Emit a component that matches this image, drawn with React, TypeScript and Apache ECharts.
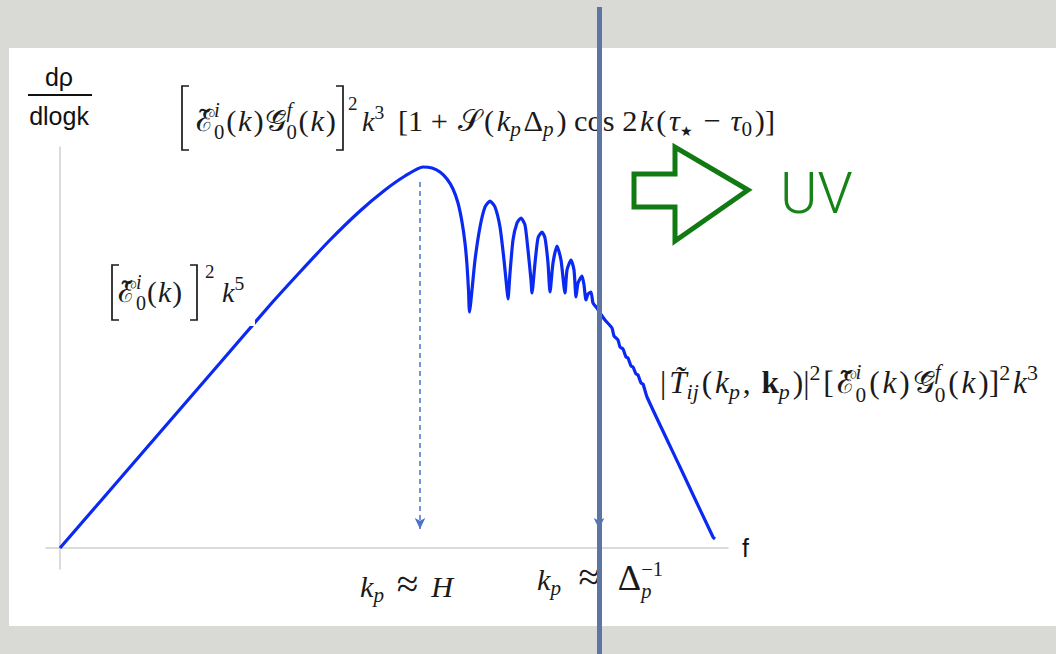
import React, { useEffect, useRef } from "react";
import * as echarts from "echarts";

// Energy spectrum trace: x = log k (arbitrary units), y = dρ/dlogk (arbitrary units)
const logK = [0, 8, 16, 21, 24, 27, 30, 32.5, 34.5, 36.3, 37.2, 38, 38.7, 39.3, 39.8, 40.2, 40.5, 40.7, 40.85, 40.95, 41.2, 41.5, 42, 42.5, 43, 43.5, 44, 44.4, 44.7, 44.8, 45, 45.3, 45.7, 46.1, 46.5, 46.8, 47.1, 47.2, 47.5, 47.8, 48.2, 48.5, 48.8, 49, 49.3, 49.7, 50.1, 50.5, 50.7, 51.1, 51.4, 51.6, 51.8, 52.2, 52.4, 52.6, 52.8, 53.1, 53.3, 53.7, 54, 54.5, 55.2, 55.4, 55.8, 56, 56.3, 56.6, 56.8, 57.1, 57.3, 57.6, 57.8, 58.1, 58.3, 58.7, 62, 65.3, 65.5];
const dRho = [0, 9.25, 18.5, 24.3, 27.6, 30.8, 33.7, 35.8, 37.2, 38.1, 38, 37.6, 36.9, 35.9, 34.5, 32.6, 30.5, 28.3, 25.8, 23.6, 25.8, 28.8, 32.1, 34.1, 34.7, 34.1, 32.1, 28.8, 25.8, 24.9, 27.5, 30.8, 32.5, 33, 32.3, 29.8, 26.8, 25.5, 28.5, 31, 31.6, 31, 28.5, 25.6, 28.5, 30.2, 28.8, 25.5, 27.8, 28.8, 27.8, 25.1, 26.5, 27.2, 26.3, 24.8, 25.4, 25.6, 24.5, 24, 23.5, 22.8, 22, 21.2, 20.8, 20.1, 19.9, 19.1, 19, 18.2, 18.1, 17.4, 17.3, 16.5, 16.4, 15.1, 8.1, 1.1, 0.9];

// Axis extents
const xRange = [-1.4, 66.8];
const yRange = [-2.1, 40.1];

// Marker arrows: k_p ≈ H (spectrum peak) and k_p ≈ Δ_p^{-1}
const markerK = [36.0, 53.9];
const markerTop = [36.6, 23.5];
const markerTip = 1.9;

// ---------- formula layout ----------
// s: script size (attached to the previous symbol), m: magnified base symbol
type Tok = { t: string; k?: "i" | "r" | "b"; s?: number; m?: number; dy?: number; stack?: boolean };
const SERIF = '"Liberation Serif", "DejaVu Serif", serif';
const SANS = '"Liberation Sans", Arial, sans-serif';
const INK = "#1a1a1a";
const CENTRAL = 0.34;

const I = (t: string): Tok => ({ t, k: "i" });
const R = (t: string, m?: number): Tok => ({ t, k: "r", m });
const B = (t: string): Tok => ({ t, k: "b" });
const sup = (t: string, k: "i" | "r" = "r"): Tok => ({ t, k, s: 0.7, dy: -0.42 });
const sub = (t: string, k: "i" | "r" = "i", s = 0.7): Tok => ({ t, k, s, dy: 0.18 });
const supsub = (a: string, b: string, ka: "i" | "r" = "i", kb: "i" | "r" = "r"): Tok[] => [
  { t: a, k: ka, s: 0.68, dy: -0.45, stack: true },
  { t: b, k: kb, s: 0.68, dy: 0.28 },
];
const scriptE: Tok = { t: "\u2130\u0303", k: "r" };
const scriptG: Tok = { t: "\uD835\uDCA2\u0303", k: "r" };
const scriptS: Tok = { t: "\uD835\uDCAE", k: "r" };

let measureCtx: CanvasRenderingContext2D | null = null;
function textWidth(tok: Tok, size: number) {
  if (!measureCtx) measureCtx = document.createElement("canvas").getContext("2d");
  const st = tok.k === "i" ? "italic" : "normal";
  const wt = tok.k === "b" ? "bold" : "normal";
  measureCtx!.font = `${st} ${wt} ${size}px ${SERIF}`;
  return measureCtx!.measureText(tok.t).width;
}

const sizeOf = (tok: Tok, S: number) => S * (tok.s || tok.m || 1);

function pack(toks: Tok[], S: number) {
  const pos: number[] = [];
  const slots: number[] = [];
  let cx = 0;
  let pend = 0;
  let nb = 0;
  toks.forEach((tok, i) => {
    if (i > 0 && !tok.s) nb += 1;
    const w = textWidth(tok, sizeOf(tok, S));
    pos.push(cx);
    slots.push(nb);
    if (tok.stack) pend = Math.max(pend, w);
    else {
      cx += Math.max(pend, w);
      pend = 0;
    }
  });
  return { pos, slots, width: cx, nb };
}

// Lays out a formula from x0 on the given baseline; when x1 is set, the size is
// nudged and the leftover space goes between base symbols so it ends at x1.
function formula(toks: Tok[], x0: number, x1: number | null, base: number, S0: number) {
  let S = S0;
  let p = pack(toks, S);
  let gap = 0;
  if (x1 != null) {
    const f = Math.min(1.12, Math.max(0.9, Math.pow((x1 - x0) / p.width, 0.5)));
    S = S0 * f;
    p = pack(toks, S);
    gap = p.nb > 0 ? (x1 - x0 - p.width) / p.nb : 0;
  }
  return toks.map((tok, i) => {
    const size = sizeOf(tok, S);
    return {
      type: "text",
      z: 100,
      x: x0 + p.pos[i] + gap * p.slots[i],
      y: base + (tok.dy || 0) * S - CENTRAL * size,
      style: {
        text: tok.t,
        fontSize: size,
        fontFamily: SERIF,
        fontStyle: tok.k === "i" ? "italic" : "normal",
        fontWeight: tok.k === "b" ? "bold" : "normal",
        fill: INK,
        align: "left",
        verticalAlign: "middle",
      },
    };
  });
}

function bracket(x: number, top: number, bot: number, side: "l" | "r") {
  const d = side === "l" ? 7 : -7;
  return {
    type: "polyline",
    z: 100,
    shape: { points: [[x + d, top], [x, top], [x, bot], [x + d, bot]] },
    style: { stroke: INK, lineWidth: 1.7, fill: "none" },
  };
}

function sansText(text: string, x: number, base: number, size: number, align = "left") {
  return {
    type: "text",
    z: 100,
    x,
    y: base - 0.35 * size,
    style: { text, fontSize: size, fontFamily: SANS, fill: "#111", align, verticalAlign: "middle" },
  };
}

function buildGraphics() {
  const g: any[] = [];
  // gap in the rising line behind the low-k label
  g.push({ type: "rect", z: 50, shape: { x: 106, y: 258, width: 149, height: 68 }, style: { fill: "#ffffff" } });

  // y-axis title dρ / dlogk
  g.push(sansText("d\u03C1", 59, 86, 25, "center"));
  g.push({ type: "line", z: 100, shape: { x1: 28, y1: 95, x2: 92, y2: 95 }, style: { stroke: "#111", lineWidth: 2 } });
  g.push(sansText("dlogk", 59, 125, 25, "center"));
  // x-axis title
  g.push(sansText("f", 742, 557, 25));

  // top formula
  g.push(bracket(182, 86, 150, "l"));
  g.push(...formula([scriptE, ...supsub("i", "0"), R("("), I("k"), R(")"), scriptG, ...supsub("f", "0"), R("("), I("k"), R(")")], 196, 336, 131, 28));
  g.push(bracket(343, 86, 150, "r"));
  g.push(...formula([R("2")], 348, null, 110, 19));
  g.push(...formula([I("k"), sup("3")], 362, null, 131, 28));
  g.push(...formula([R("[1 + "), scriptS, R("("), I("k"), sub("p"), R("\u0394"), sub("p"), R(") cos 2"), I("k"), R("("), I("\u03C4"), sub("\u2605", "r", 0.45), R(" \u2212 "), I("\u03C4"), sub("0", "r"), R(")]")], 398, 775, 131, 28));

  // low-k formula
  g.push(bracket(112, 265, 320, "l"));
  g.push(...formula([scriptE, ...supsub("i", "0"), R("("), I("k"), R(")")], 118, 182, 302, 28));
  g.push(bracket(197, 265, 320, "r"));
  g.push(...formula([R("2")], 205, null, 278, 19));
  g.push(...formula([I("k"), sup("5")], 222, null, 302, 28));

  // high-k formula
  g.push(...formula([R("|"), I("T\u0303"), sub("ij"), R("("), I("k"), sub("p"), R(", "), B("k"), sub("p"), R(")|"), sup("2"), R("["), scriptE, ...supsub("i", "0"), R("("), I("k"), R(")"), scriptG, ...supsub("f", "0"), R("("), I("k"), R(")]"), sup("2"), I("k"), sup("3")], 660, 1038, 393, 28));

  // marker labels
  g.push(...formula([I("k"), sub("p"), R("\u2248", 1.3), I("H")], 360, 453, 597, 27));
  g.push(...formula([I("k"), sub("p"), R("\u2248", 1.3), R("\u0394", 1.2), ...supsub("\u22121", "p", "r", "i")], 537, 663, 590, 27));

  // UV arrow and label
  g.push({
    type: "polygon",
    z: 100,
    shape: { points: [[634, 174], [675, 174], [675, 147], [748, 190], [675, 241], [675, 207], [634, 207]] },
    style: { fill: "none", stroke: "#127a12", lineWidth: 5, lineJoin: "miter" },
  });
  g.push({
    type: "text",
    z: 100,
    x: 780,
    y: 213 - 0.35 * 57,
    style: { text: "UV", fontSize: 57, fontFamily: "Roboto, " + SANS, fontWeight: 300, fill: "#178217", align: "left", verticalAlign: "middle" },
  });

  // vertical cut at k_p ≈ Δ_p^{-1}
  g.push({ type: "line", z: 120, shape: { x1: 599.5, y1: 7, x2: 599.5, y2: 654 }, style: { stroke: "#5b76a3", lineWidth: 5 } });
  return g;
}

export default function App() {
  const ref = useRef<HTMLDivElement>(null);
  useEffect(() => {
    const chart = echarts.init(ref.current!, null, { renderer: "svg", width: 1056, height: 654 });
    const axisCommon = {
      type: "value",
      axisLine: { onZero: true, lineStyle: { color: "#cfcfcf", width: 1.5 } },
      axisTick: { show: false },
      axisLabel: { show: false },
      splitLine: { show: false },
    };
    chart.setOption({
      animation: false,
      backgroundColor: "transparent",
      grid: { left: 46, top: 147, width: 682, height: 422, containLabel: false, outerBoundsMode: "none" },
      xAxis: { ...axisCommon, min: xRange[0], max: xRange[1] },
      yAxis: { ...axisCommon, min: yRange[0], max: yRange[1] },
      series: [
        {
          type: "line",
          data: logK.map((k, i) => [k, dRho[i]]),
          symbol: "none",
          smooth: 0.2,
          z: 3,
          lineStyle: { color: "#0a2af2", width: 3.2 },
          markLine: {
            silent: true,
            animation: false,
            symbol: ["none", "arrow"],
            symbolSize: [8, 11],
            label: { show: false },
            lineStyle: { color: "#4a73c9", width: 1.5, type: [5, 4] },
            data: markerK.map((k, i) => [{ coord: [k, markerTop[i]] }, { coord: [k, markerTip] }]),
          },
        },
      ],
      graphic: buildGraphics(),
    });
    return () => chart.dispose();
  }, []);
  return (
    <div style={{ position: "fixed", left: 0, top: 0, width: 1056, height: 654, background: "#d9d9d5", overflow: "hidden" }}>
      <div style={{ position: "absolute", left: 9, top: 48, right: 0, height: 578, background: "#ffffff" }} />
      <div ref={ref} style={{ position: "absolute", left: 0, top: 0, width: 1056, height: 654 }} />
    </div>
  );
}
